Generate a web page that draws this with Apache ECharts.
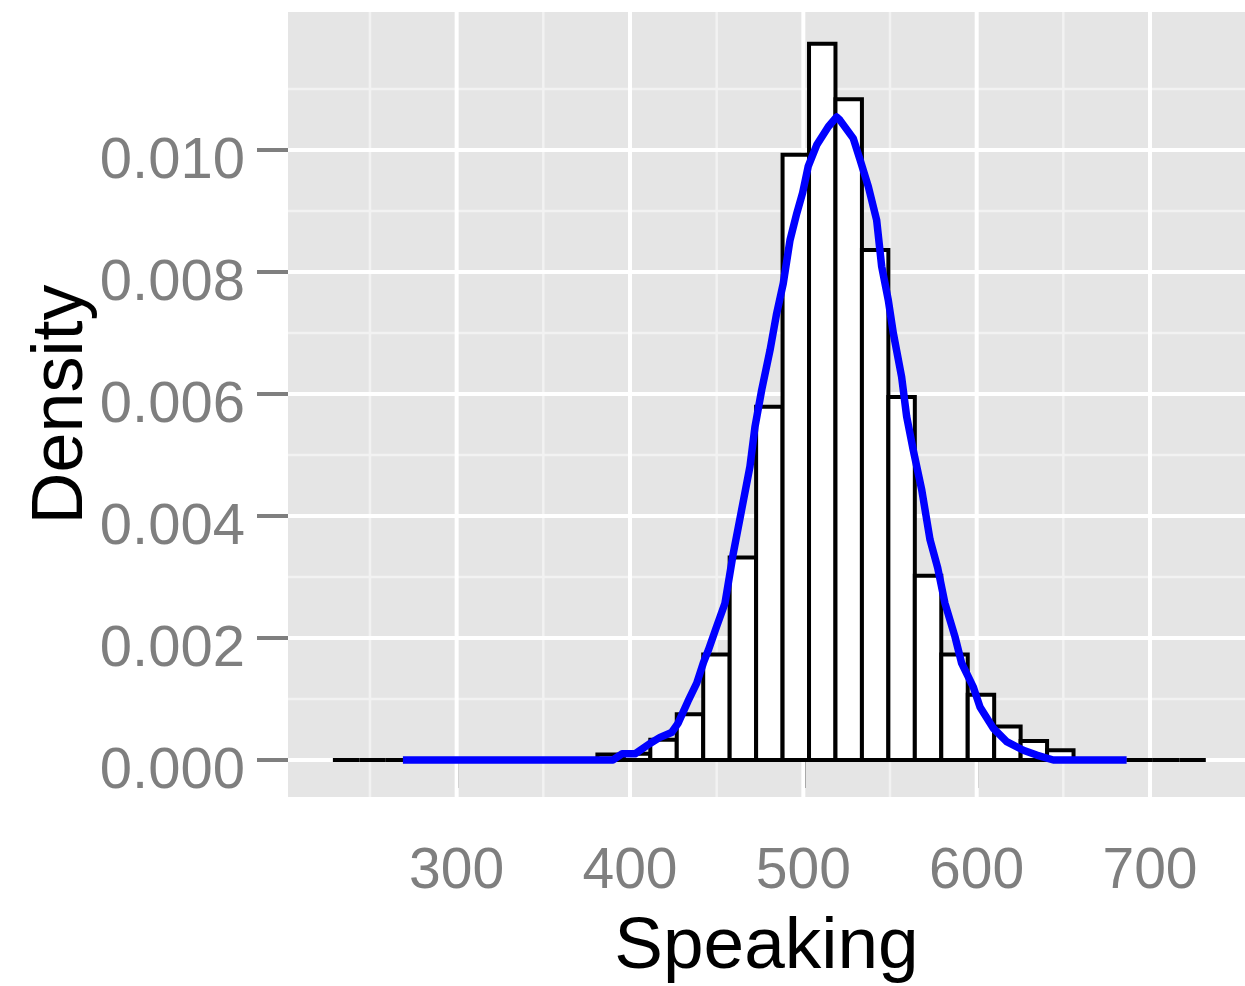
<!DOCTYPE html>
<html>
<head>
<meta charset="utf-8">
<script src="https://cdn.jsdelivr.net/npm/echarts@6/dist/echarts.min.js"></script>
<style>html,body{margin:0;padding:0;background:#fff;}#c{width:1245px;height:986px;}</style>
</head>
<body>
<div id="c"></div>
<script>
// ---- data ----
const xTicks = [300, 400, 500, 600, 700];
const xMinor = [250, 350, 450, 550, 650];
const yTicks = [0, 0.002, 0.004, 0.006, 0.008, 0.010];
const yMinor = [0.001, 0.003, 0.005, 0.007, 0.009, 0.011];
const binStart = 228.6;
const binWidth = 15.26;
const binHeights = [0, 0, 0, 0, 0, 0, 0, 0, 0, 0,
  0.00009, 0.0001, 0.00033, 0.00075, 0.00173, 0.00332, 0.00579, 0.00992, 0.01174, 0.01083,
  0.00836, 0.00595, 0.00302, 0.00173, 0.00107, 0.00055, 0.00031, 0.00016,
  0, 0, 0, 0, 0];
const densityX = [269.0, 390.2, 395.4, 402.9, 411.5, 417.3, 424.0, 427.7, 433.4, 438.5,
  442.3, 445.2, 450.0, 454.8, 459.6, 464.4, 469.2, 472.1, 476.0, 480.8,
  484.6, 488.4, 492.3, 496.2, 499.6, 502.8, 507.7, 514.4, 519.2, 521.1,
  528.8, 532.7, 537.5, 542.3, 545.2, 549.0, 551.9, 556.7, 559.6, 563.4,
  568.3, 573.1, 577.5, 581.7, 587.5, 591.3, 598.0, 601.9, 609.6, 617.3,
  626.9, 634.6, 644.2, 686.5];
const densityY = [0, 0, 0.0001, 0.0001, 0.00027, 0.00037, 0.00045, 0.0006, 0.00096, 0.00126,
  0.00159, 0.0018, 0.00219, 0.00257, 0.00339, 0.0041, 0.00481, 0.00546, 0.00607, 0.00672,
  0.00732, 0.00781, 0.00852, 0.00896, 0.0093, 0.00973, 0.01008, 0.01038, 0.01054, 0.01049,
  0.01019, 0.00984, 0.0094, 0.00885, 0.00809, 0.00754, 0.007, 0.00628, 0.00563, 0.00508,
  0.00443, 0.00361, 0.00315, 0.00257, 0.00202, 0.00159, 0.0012, 0.00087, 0.00052, 0.0003,
  0.00016, 0.00008, 0, 0];

// ---- build ----
const bins = binHeights.map((h, i) => [binStart + i * binWidth, binStart + (i + 1) * binWidth, h]);
const density = densityX.map((x, i) => [x, densityY[i]]);

const chart = echarts.init(document.getElementById('c'), null, {renderer: 'canvas'});
const FONT = '"Liberation Sans", Arial, Helvetica, sans-serif';

chart.setOption({
  animation: false,
  backgroundColor: '#ffffff',
  grid: {left: 288, right: 0, top: 12, bottom: 189, show: true, backgroundColor: '#e5e5e5', borderWidth: 0,
    containLabel: false, outerBoundsMode: 'none'},
  xAxis: {
    type: 'value', min: 202.7, max: 754.8,
    axisLine: {show: false},
    splitLine: {show: false},
    axisTick: {show: true, customValues: xTicks, length: 28, lineStyle: {color: '#7f7f7f', width: 4}},
    axisLabel: {customValues: xTicks, color: '#7f7f7f', fontSize: 57, fontFamily: FONT, margin: 47},
    name: 'Speaking', nameLocation: 'middle', nameGap: 114,
    nameTextStyle: {color: '#000', fontSize: 73, fontFamily: FONT}
  },
  yAxis: {
    type: 'value', min: -0.000607, max: 0.012262,
    axisLine: {show: false},
    splitLine: {show: false},
    axisTick: {show: true, customValues: yTicks, length: 31, lineStyle: {color: '#7f7f7f', width: 4}},
    axisLabel: {show: false},
    name: 'Density', nameLocation: 'middle', nameGap: 190, nameRotate: 90,
    nameTextStyle: {color: '#000', fontSize: 72, fontFamily: FONT}
  },
  series: [
    {
      type: 'custom', z: 1, silent: true, data: [[0]], clip: false,
      renderItem: function (params, api) {
        const cs = params.coordSys;
        const children = [];
        const vline = (v, color, w) => {
          const x = api.coord([v, 0])[0];
          children.push({type: 'line', shape: {x1: x, y1: cs.y, x2: x, y2: cs.y + cs.height}, style: {stroke: color, lineWidth: w}});
        };
        const hline = (v, color, w) => {
          const y = api.coord([0, v])[1];
          children.push({type: 'line', shape: {x1: cs.x, y1: y, x2: cs.x + cs.width, y2: y}, style: {stroke: color, lineWidth: w}});
        };
        xMinor.forEach(v => vline(v, '#f2f2f2', 2.5));
        yMinor.forEach(v => hline(v, '#f2f2f2', 2.5));
        xTicks.forEach(v => vline(v, '#ffffff', 4));
        yTicks.forEach(v => hline(v, '#ffffff', 4));
        // y tick labels (ggplot draws them slightly below the tick)
        yTicks.forEach(v => {
          const y = api.coord([0, v])[1];
          children.push({type: 'text', x: cs.x - 43, y: y + 12,
            style: {text: v.toFixed(3), fill: '#7f7f7f', font: '58px ' + FONT, align: 'right', verticalAlign: 'middle'}});
        });
        return {type: 'group', children: children};
      }
    },
    {
      type: 'custom', z: 2, silent: true, data: bins,
      encode: {x: [0, 1], y: 2},
      renderItem: function (params, api) {
        const p0 = api.coord([api.value(0), 0]);
        const p1 = api.coord([api.value(1), api.value(2)]);
        return {
          type: 'rect',
          shape: {x: p0[0], y: p1[1], width: p1[0] - p0[0], height: p0[1] - p1[1]},
          style: {fill: '#ffffff', stroke: '#000000', lineWidth: 4}
        };
      }
    },
    {
      type: 'line', z: 3, silent: true, data: density, showSymbol: false, symbol: 'none',
      lineStyle: {color: '#0000ff', width: 7.5, join: 'round'}
    }
  ]
});
</script>
</body>
</html>
